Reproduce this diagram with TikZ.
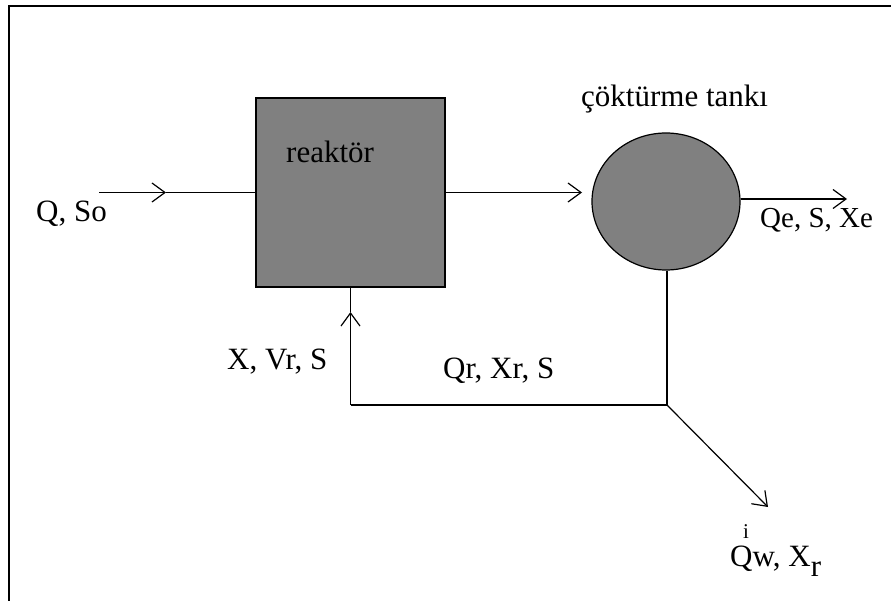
\documentclass[tikz,border=0pt]{standalone}
\usepackage{fontspec}
\setmainfont{Liberation Serif}
\usetikzlibrary{arrows.meta,shapes.geometric}
\definecolor{fillgray}{RGB}{128,128,128}
\begin{document}
\begin{tikzpicture}[x=1pt,y=-1pt,
  lbl/.style={inner sep=0pt, anchor=base west, font=\fontsize{31}{36}\selectfont},
  tiny/.style={inner sep=0pt, anchor=base west, font=\fontsize{21}{24}\selectfont},
  conn/.style={line width=1.2pt},
  barb/.style={-{Straight Barb[length=13pt,width=19pt,line width=1.2pt]}},
]
\useasboundingbox (0,0) rectangle (891,601);
\draw[line width=2pt] (9,601) -- (9,6) -- (891,6);
\node[draw, line width=1.2pt, fill=fillgray, minimum width=189pt, minimum height=189pt, inner sep=0pt] (box) at (350.5,192.5) {};
\node[ellipse, draw, line width=1.2pt, fill=fillgray, minimum width=148pt, minimum height=137pt, inner sep=0pt] (tank) at (666,201.5) {};
% labels
\node[lbl] (reak) at (286,163) {reaktör};
\node[lbl] (tanklbl) at (581,107) {çöktürme tankı};
\node[lbl] (qso) at (36,222) {Q, So};
\node[lbl, font=\fontsize{29}{34}\selectfont] (qe) at (760,228) {Qe, S, Xe};
\node[lbl] (xvr) at (227,369) {X, Vr, S};
\node[lbl] (qr) at (443,378) {Qr, Xr, S};
\node[lbl] (qw) at (730,566) {Qw, X\raisebox{-10pt}{r}};
\node[tiny] (imark) at (743,538) {i};
% coordinates
\coordinate (in0) at (99,192.5);
\coordinate (in1) at (166,192.5);
\coordinate (mid1) at (582,192.5);
\coordinate (out1) at (847,199);
\coordinate (c1) at (667,405);
\coordinate (c2) at (350.5,405);
\coordinate (up1) at (350.5,312);
\coordinate (w1) at (768,507);
% connectors
\draw[conn,barb] (in0) -- (in1);
\draw[conn] (in1) -- (box.west);
\draw[conn,barb] (box.east) -- (mid1);
\draw[conn,barb] (tank.east |- out1) -- (out1);
\draw[conn] (tank.south -| c1) -- (c1) -- (c2);
\draw[conn,barb] (c2) -- (up1);
\draw[conn] (up1) -- (box.south);
\draw[conn,barb] (c1) -- (w1);
\end{tikzpicture}
\end{document}
